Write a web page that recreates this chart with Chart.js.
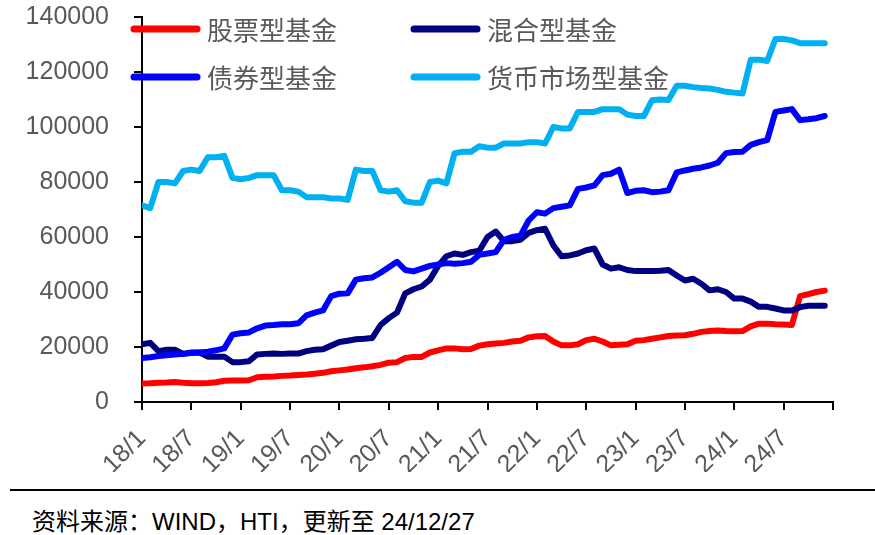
<!DOCTYPE html>
<html>
<head>
<meta charset="utf-8">
<script src="https://cdn.jsdelivr.net/npm/chart.js@4.4.0/dist/chart.umd.min.js"></script>
<style>
  html, body { margin: 0; padding: 0; background: #fff; }
  #wrap { position: relative; width: 875px; height: 535px; overflow: hidden; }
  #chart { position: absolute; left: 0; top: 0; }
  #rule { position: absolute; left: 10px; right: 0; top: 489px; height: 0; border-top: 2px solid #000; }
  #source {
    position: absolute; left: 32px; top: 502px;
    font: 24px "Liberation Sans", "Noto Sans CJK SC", sans-serif;
    color: #000; white-space: nowrap;
  }
</style>
</head>
<body>
<div id="wrap">
  <canvas id="chart" width="875" height="472"></canvas>
  <div id="rule"></div>
  <div id="source">资料来源：WIND，HTI，更新至 24/12/27</div>
</div>
<script>
// ===== DATA (monthly, 18/1 .. 24/12) =====
const tickLabels = ['18/1', '18/7', '19/1', '19/7', '20/1', '20/7', '21/1', '21/7',
                    '22/1', '22/7', '23/1', '23/7', '24/1', '24/7'];

const seriesNames = ['股票型基金', '混合型基金', '债券型基金', '货币市场型基金'];

const stockFund = [
  6700, 6800, 7000, 7100, 7300, 7000, 6800, 6800, 6900, 7200, 7700, 7800,
  7800, 7900, 9000, 9200, 9300, 9500, 9600, 9800, 10000, 10300, 10600, 11200,
  11500, 11800, 12300, 12600, 13000, 13500, 14300, 14500, 16000, 16400, 16400, 18000,
  18800, 19500, 19500, 19200, 19300, 20500, 21000, 21300, 21500, 22000, 22300, 23500,
  23900, 24000, 22000, 20600, 20600, 21000, 22500, 23000, 22000, 20600, 20800, 21000,
  22300, 22500, 23000, 23500, 24000, 24200, 24300, 24800, 25500, 25800, 26000, 25800,
  25700, 25800, 27500, 28500, 28500, 28300, 28200, 28000, 38500, 39200, 40000, 40500
];

const mixedFund = [
  21000, 21500, 18500, 19000, 19000, 17500, 18000, 18000, 16500, 16500, 16500, 14500,
  14500, 14800, 17300, 17500, 17600, 17500, 17600, 17600, 18500, 19000, 19200, 20500,
  21800, 22300, 22800, 23000, 23300, 28000, 30500, 32500, 39500, 41000, 42000, 44500,
  49500, 53000, 54000, 53500, 54500, 55000, 60000, 62000, 58500, 58500, 59000, 61500,
  62500, 63000, 57000, 53000, 53300, 54000, 55200, 55800, 50000, 48500, 49000, 48000,
  47600, 47600, 47600, 47700, 48000, 46000, 44200, 44800, 43000, 40600, 41000, 40000,
  37600, 37600, 36500, 34600, 34600, 34000, 33300, 33300, 34500, 35000, 35000, 35000
];

const bondFund = [
  16000, 16300, 16700, 17000, 17300, 17500, 17800, 18000, 18300, 18800, 19500, 24500,
  25000, 25300, 26800, 27800, 28000, 28300, 28300, 28600, 31500, 32500, 33300, 38500,
  39400, 39500, 44500, 45000, 45300, 47000, 49000, 51000, 48000, 47500, 48500, 49500,
  50000, 50500, 50300, 50500, 51000, 53500, 54000, 54500, 59000, 60000, 60500, 66000,
  69000, 68500, 70500, 71000, 71500, 77500, 78000, 78800, 82500, 83000, 84500, 76000,
  76800, 77000, 76300, 76500, 77000, 83500, 84200, 84800, 85300, 86000, 87000, 90500,
  90900, 91000, 93500, 94500, 95200, 105500, 106000, 106500, 102500, 102800, 103200, 104000
];

const moneyFund = [
  71500, 70500, 80000, 80000, 79500, 84000, 84500, 84000, 89000, 89000, 89500, 81500,
  81000, 81500, 82500, 82500, 82500, 77000, 77000, 76500, 74500, 74500, 74500, 74000,
  74000, 73500, 84500, 84000, 84000, 77000, 76500, 77000, 73000, 72500, 72500, 80000,
  80500, 79500, 90500, 91000, 91000, 93000, 92500, 92500, 94000, 94000, 94000, 94500,
  94500, 94000, 100000, 99500, 99500, 105500, 105500, 105500, 106500, 106500, 106500, 104500,
  104000, 104000, 109700, 110000, 109800, 115000, 115000, 114500, 114200, 114000, 113500, 112800,
  112500, 112200, 124500, 124500, 124000, 132000, 132000, 131500, 130500, 130500, 130500, 130500
];

const seriesColors = ['#FF0000', '#000080', '#0000FF', '#00B0F0'];

document.addEventListener('DOMContentLoaded', function () {

  const allSeries = [stockFund, mixedFund, bondFund, moneyFund];
  const toPoints = arr => arr.map((v, i) => ({ x: i, y: v }));

  const datasets = allSeries.map(function (arr, k) {
    return {
      label: seriesNames[k],
      data: toPoints(arr),
      borderColor: seriesColors[k],
      backgroundColor: seriesColors[k],
      borderWidth: 6,
      pointRadius: 0,
      tension: 0,
      fill: false,
      borderJoinStyle: 'round',
      borderCapStyle: 'round',
      order: 4 - k
    };
  });

  // custom legend, two columns inside the plot
  const legendPlugin = {
    id: 'cornerLegend',
    afterDraw(chart) {
      const ctx = chart.ctx;
      const cols = [131, 411];
      const rows = [29, 77];
      ctx.save();
      ctx.font = '26px "Noto Sans CJK SC", sans-serif';
      ctx.textBaseline = 'middle';
      ctx.fillStyle = '#595959';
      seriesNames.forEach(function (name, k) {
        const x = cols[k % 2], y = rows[Math.floor(k / 2)];
        ctx.strokeStyle = seriesColors[k];
        ctx.lineWidth = 7;
        ctx.lineCap = 'round';
        ctx.beginPath();
        ctx.moveTo(x + 3, y);
        ctx.lineTo(x + 66, y);
        ctx.stroke();
        ctx.fillText(name, x + 76, y + 1);
      });
      ctx.restore();
    }
  };

  const tickFont = { family: '"Liberation Sans", Arial, sans-serif', size: 25 };

  new Chart(document.getElementById('chart'), {
    type: 'line',
    data: { datasets: datasets },
    options: {
      responsive: false,
      animation: false,
      devicePixelRatio: 1,
      layout: { padding: { left: 0, right: 42, top: 17, bottom: 0 } },
      plugins: { legend: { display: false }, tooltip: { enabled: false } },
      scales: {
        x: {
          type: 'linear',
          min: 0, max: 84,
          afterFit: s => { s.height = 70; s.paddingLeft = 0; s.paddingRight = 0; },
          afterBuildTicks: s => {
            s.ticks = [];
            for (let v = 0; v <= 84; v += 6) s.ticks.push({ value: v });
          },
          ticks: {
            autoSkip: false,
            maxRotation: 45, minRotation: 45,
            padding: 14,
            color: '#595959',
            font: { family: tickFont.family, size: 25 },
            callback: v => tickLabels[v / 6] || ''
          },
          grid: { drawOnChartArea: false, drawTicks: true, tickLength: 8, color: '#000', lineWidth: 2 },
          border: { display: true, color: '#000', width: 2 }
        },
        y: {
          min: 0, max: 140000,
          afterFit: s => { s.width = 142; s.paddingTop = 0; s.paddingBottom = 0; },
          ticks: {
            stepSize: 20000,
            padding: 25,
            color: '#595959',
            font: tickFont,
            callback: v => String(v)
          },
          grid: { drawOnChartArea: false, drawTicks: true, tickLength: 8, color: '#000', lineWidth: 2 },
          border: { display: true, color: '#000', width: 2 }
        }
      }
    },
    plugins: [legendPlugin]
  });
});
</script>
</body>
</html>
